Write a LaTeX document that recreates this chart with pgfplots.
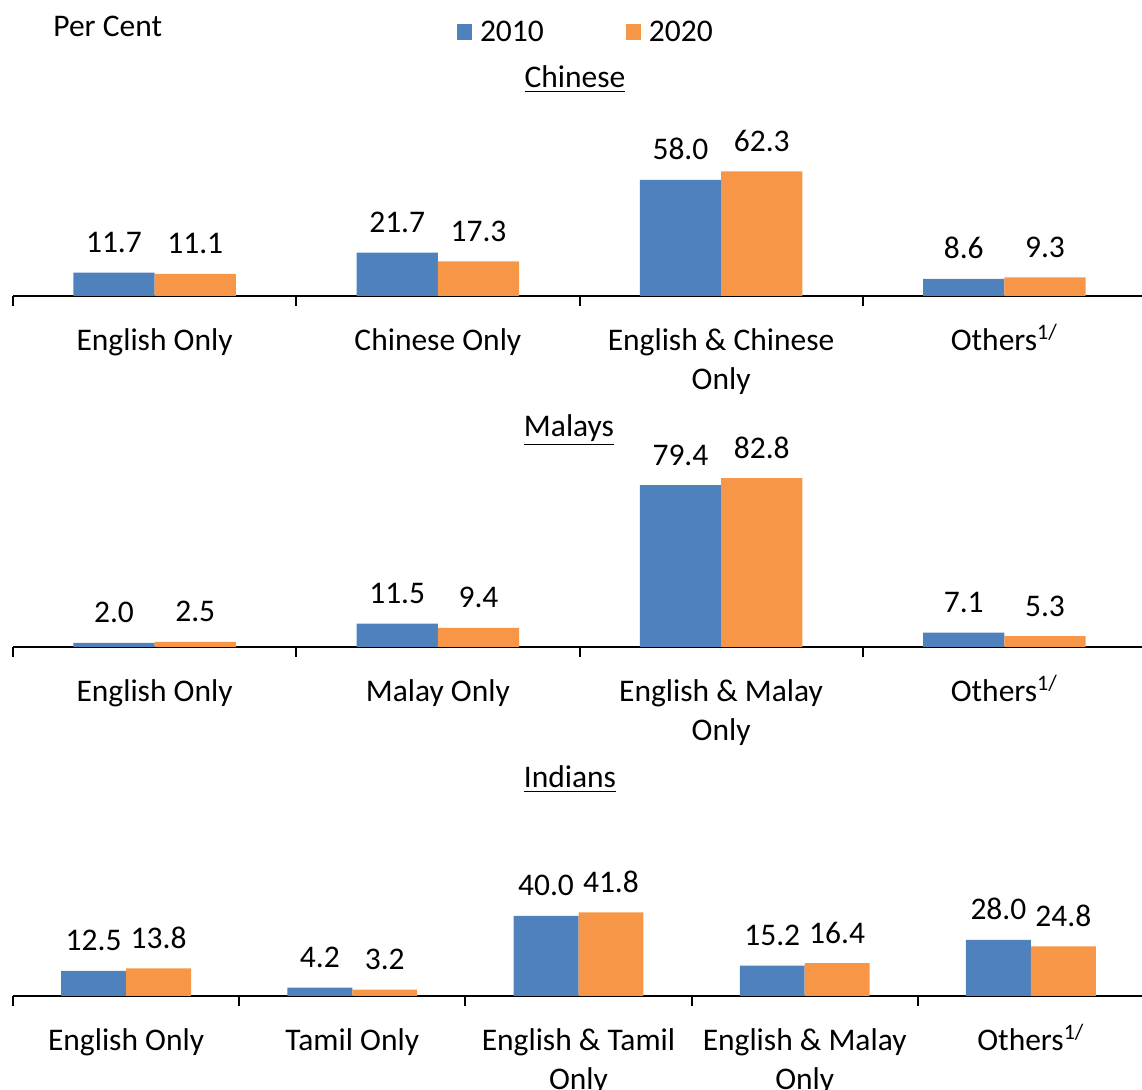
\documentclass[border=0pt]{standalone}
\usepackage{pgfplots}
\pgfplotsset{compat=1.18}
\usepackage{fontspec}
\setmainfont{Carlito}
\definecolor{cblue}{HTML}{4F81BD}
\definecolor{corange}{HTML}{F79646}
\newcommand{\fs}{\fontsize{15.75}{19.5}\selectfont}
\pgfplotsset{
  catax/.style={
    scale only axis, width=566.5pt, ymin=0, ymax=100, height=100pt,
    axis x line*=bottom, axis y line=none,
    x axis line style={-, black, line width=1pt},
    ybar, bar width=0.287, clip=false,
    major tick length=0pt, tick align=outside,
    xticklabel style={font=\fs, align=center, anchor=north, inner sep=0pt, yshift=-13.35pt, text=black},
    extra x tick style={major tick length=5pt, tick style={black, line width=1pt}},
    extra x tick labels={},
    nodes near coords,
    every node near coord/.append style={font=\fs, anchor=base, yshift=10pt, inner sep=0pt, text=black},
    /pgf/number format/fixed, /pgf/number format/fixed zerofill,
    /pgf/number format/precision=1, /pgf/number format/assume math mode=true,
  },
  b1/.style={fill=cblue, draw=none, bar shift=-0.1435},
  b2/.style={fill=corange, draw=none, bar shift=0.1435},
}
\begin{document}
\begin{tikzpicture}
\path[use as bounding box] (0,0) rectangle (571pt,-545pt);
% Chinese
\begin{axis}[catax, at={(6.5pt,-148pt)}, anchor=south west,
  xmin=-0.5, xmax=3.5, xtick={0,1,2,3},
  xticklabels={\strut English Only, \strut Chinese Only, \strut English \& Chinese\\Only, \strut Others\textsuperscript{1/}},
  extra x ticks={-0.5,0.5,1.5,2.5,3.5},
  legend columns=2,
  legend image code/.code={\fill[#1] (0pt,-3.5pt) rectangle (7.5pt,4.5pt); \path (9.5pt,0pt);},
  legend style={draw=none, fill=none, font=\fs, at={(axis description cs:0.5065,1.315)}, anchor=center,
    /tikz/every even column/.append style={column sep=39pt}},
]
\addplot[b1] coordinates {(0,11.7) (1,21.7) (2,58.0) (3,8.6)};
\addplot[b2] coordinates {(0,11.1) (1,17.3) (2,62.3) (3,9.3)};
\legend{2010,2020}
\end{axis}
% Malays
\begin{axis}[catax, at={(6.5pt,-323.5pt)}, anchor=south west, height=102pt,
  xmin=-0.5, xmax=3.5, xtick={0,1,2,3},
  xticklabels={\strut English Only, \strut Malay Only, \strut English \& Malay\\Only, \strut Others\textsuperscript{1/}},
  extra x ticks={-0.5,0.5,1.5,2.5,3.5},
]
\addplot[b1] coordinates {(0,2.0) (1,11.5) (2,79.4) (3,7.1)};
\addplot[b2] coordinates {(0,2.5) (1,9.4) (2,82.8) (3,5.3)};
\end{axis}
% Indians
\begin{axis}[catax, at={(6.5pt,-498pt)}, anchor=south west, width=565.5pt,
  xmin=-0.5, xmax=4.5, xtick={0,1,2,3,4},
  xticklabels={\strut English Only, \strut Tamil Only, \strut English \& Tamil\\Only, \strut English \& Malay\\Only, \strut Others\textsuperscript{1/}},
  extra x ticks={-0.5,0.5,1.5,2.5,3.5,4.5},
]
\addplot[b1] coordinates {(0,12.5) (1,4.2) (2,40.0) (3,15.2) (4,28.0)};
\addplot[b2] coordinates {(0,13.8) (1,3.2) (2,41.8) (3,16.4) (4,24.8)};
\end{axis}
\node[font=\fs, anchor=base west, inner sep=0pt] at (26.5pt,-18.5pt) {Per Cent};
\node[font=\fs, anchor=base, inner sep=0pt] at (287.5pt,-44pt) {\underline{Chinese}};
\node[font=\fs, anchor=base, inner sep=0pt] at (284.5pt,-218.5pt) {\underline{Malays}};
\node[font=\fs, anchor=base, inner sep=0pt] at (285pt,-394pt) {\underline{Indians}};
\end{tikzpicture}
\end{document}
